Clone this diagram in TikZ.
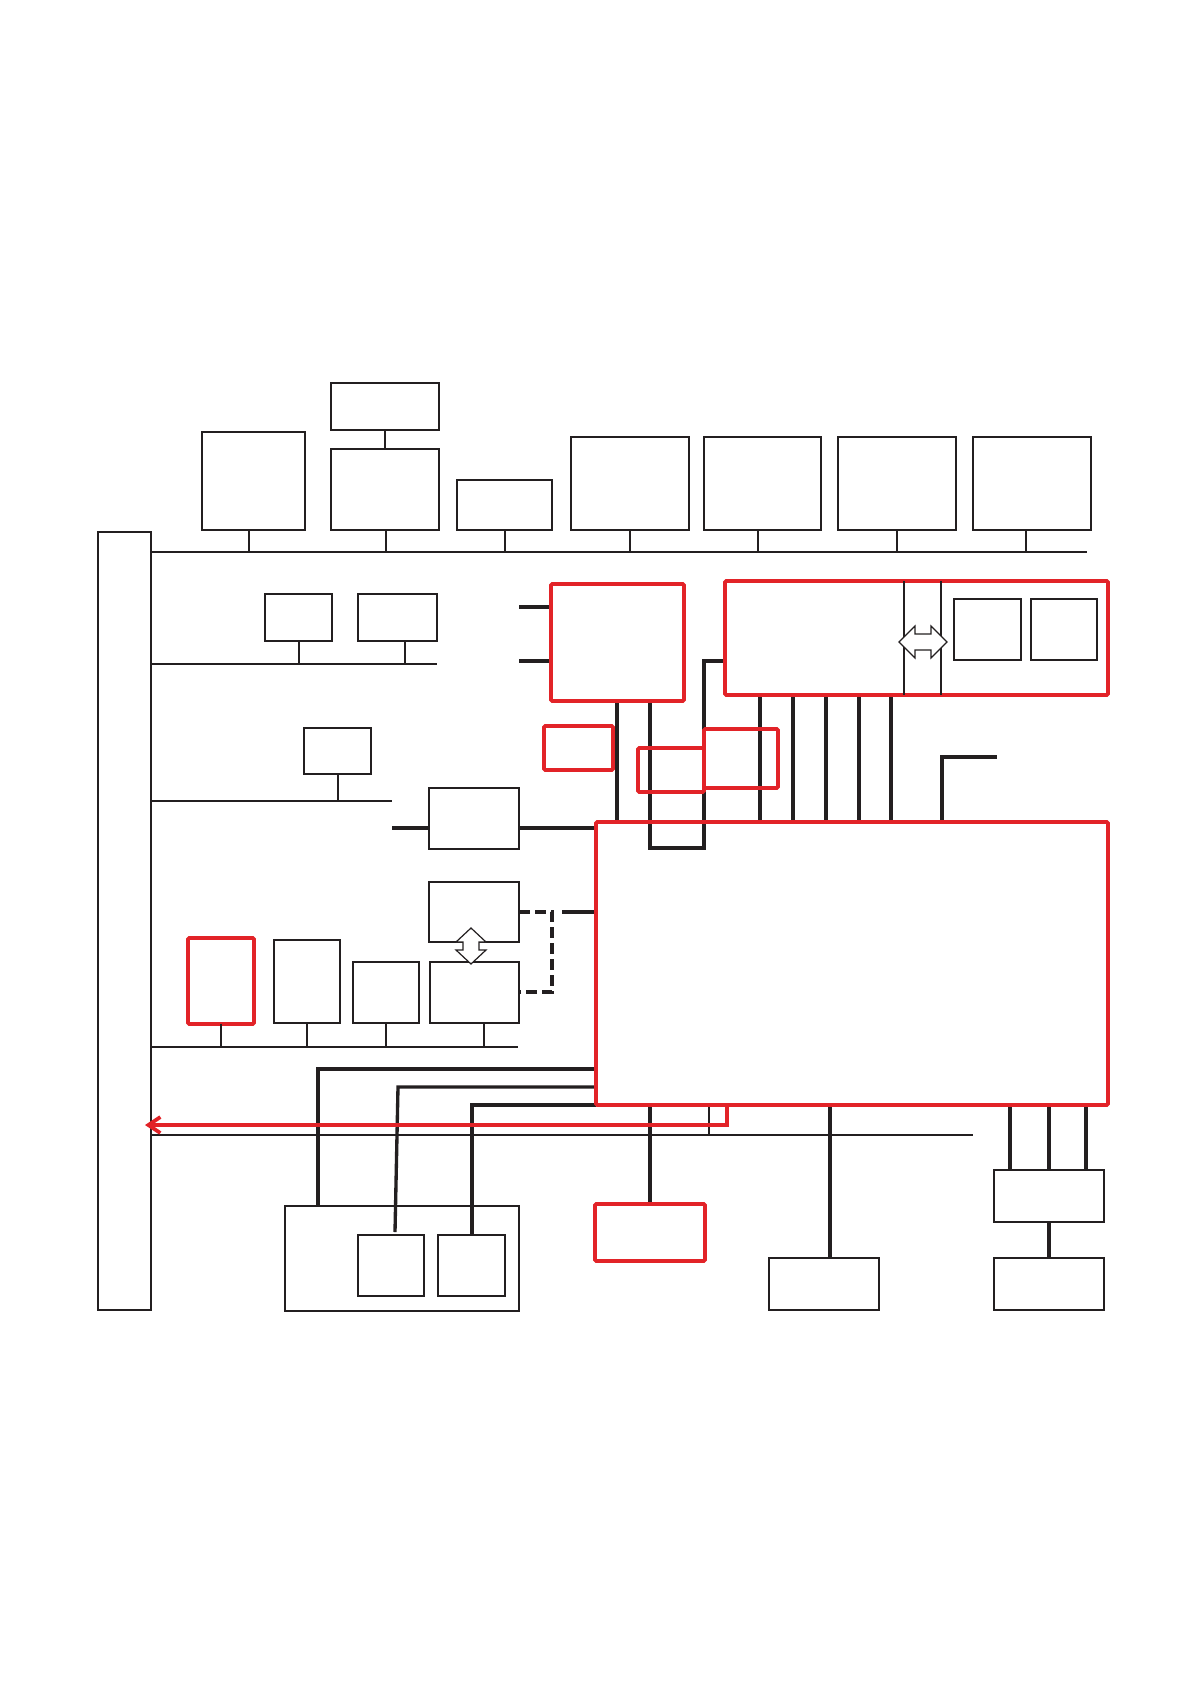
\documentclass[tikz,border=0pt]{standalone}
\usetikzlibrary{fit,arrows.meta}
\definecolor{lred}{RGB}{226,35,40}
\definecolor{lblk}{RGB}{35,31,32}
\pgfdeclarelayer{back}
\pgfsetlayers{back,main}
\tikzset{every picture/.style={line width=0.75pt}}
\tikzset{
  blk/.style={draw=lblk, line width=0.9pt, inner sep=0pt, outer sep=0pt},
  redblk/.style={draw=lred, line width=2.8pt, inner sep=0pt, outer sep=0pt, rounded corners=1pt},
  busline/.style={draw=lblk, line width=1.5pt},
  thinbus/.style={draw=lblk, line width=0.9pt},
  wire/.style={draw=lblk, line width=2.5pt},
  dashwire/.style={draw=lblk, line width=2.5pt, dash pattern={on 8pt off 4pt}},
  redwire/.style={draw=lred, line width=2.8pt},
  dblarrow/.style={draw=lblk, line width=0.9pt, fill=white},
}
\begin{document}
\begin{tikzpicture}[x=0.75pt,y=0.75pt,yscale=-1,xscale=1]
\useasboundingbox (0,0) rectangle (1190,1684);

%Shape: Rectangle [left bar]
\node[blk, fit={(98,532) (151,1310)}] (bar) {};

%Shape: Rectangle [top row]
\node[blk, fit={(202,432) (305,530)}] (topA) {};
\node[blk, fit={(331,383) (439,430)}] (topB) {};
\node[blk, fit={(331,449) (439,530)}] (topC) {};
\node[blk, fit={(457,480) (552,530)}] (topD) {};
\node[blk, fit={(571,437) (689,530)}] (topE) {};
\node[blk, fit={(704,437) (821,530)}] (topF) {};
\node[blk, fit={(838,437) (956,530)}] (topG) {};
\node[blk, fit={(973,437) (1091,530)}] (topH) {};

%Straight Lines [bus 1]
\coordinate (busA) at (151,552);
\coordinate (busAend) at (1087,552);
\draw[busline] (busA) -- (busAend);
\draw[busline] (topB.south) -- (topC.north);
\foreach \bx/\dx in {topA/-3.4,topC/0.5,topD/0.4,topE/0,topF/-3.5,topG/0,topH/-4.5}
  \draw[busline] ([xshift=\dx pt]\bx.south) -- ([xshift=\dx pt]\bx.south |- busA);

%Shape: Rectangle [bus 2]
\node[blk, fit={(265,594) (332,641)}] (midK) {};
\node[blk, fit={(358,594) (437,641)}] (midL) {};
\coordinate (busB) at (151,664);
\coordinate (busBend) at (437,664);
\draw[busline] (busB) -- (busBend);
\draw[busline] (midK.south) -- (midK.south |- busB);
\draw[busline] ([xshift=5.6pt]midL.south) -- ([xshift=5.6pt]midL.south |- busB);

%Shape: Rectangle [bus 3]
\node[blk, fit={(304,728) (371,774)}] (midM) {};
\coordinate (busC) at (151,801);
\coordinate (busCend) at (392,801);
\draw[thinbus] (busC) -- (busCend);
\draw[busline] (midM.south) -- (midM.south |- busC);

%Shape: Rectangle [middle column]
\node[blk, fit={(429,788) (519,849)}] (midN) {};
\node[blk, fit={(429,882) (519,942)}] (midO) {};
\node[blk, fit={(430,962) (519,1023)}] (midP) {};

%Shape: Rectangle [bus 4]
\node[redblk, fit={(188,938) (254,1024)}] (redQ) {};
\node[blk, fit={(274,940) (340,1023)}] (midS) {};
\node[blk, fit={(353,962) (419,1023)}] (midT) {};
\coordinate (busD) at (151,1047);
\coordinate (busDend) at (518,1047);
\draw[busline] (busD) -- (busDend);
\foreach \bx/\dx in {redQ/0,midS/0,midT/0,midP/7}
  \draw[busline] ([xshift=\dx pt]\bx.south) -- ([xshift=\dx pt]\bx.south |- busD);

%Shape: Rectangle [red blocks]
\node[redblk, fit={(551,584) (684,701)}] (redA) {};
\node[redblk, fit={(725,581) (1108,695)}] (redB) {};
\node[redblk, fit={(544,726) (613,770)}] (redC) {};
\node[redblk, fit={(638,748) (704,792)}] (redD) {};
\node[redblk, fit={(704,729) (778,788)}] (redE) {};
\node[redblk, fit={(596,822) (1108,1105)}] (core) {};
\node[redblk, fit={(595,1204) (705,1261)}] (redF) {};

%Shape: Rectangle [inside redB]
\coordinate (splitA) at (904,0);
\coordinate (splitB) at (941,0);
\draw[blk] (redB.north -| splitA) -- (redB.south -| splitA);
\draw[blk] (redB.north -| splitB) -- (redB.south -| splitB);
\node[blk, fit={(954,599) (1021,660)}] (subI) {};
\node[blk, fit={(1031,599) (1097,660)}] (subJ) {};

%Shape: Rectangle [bottom row]
\node[blk, fit={(285,1206) (519,1311)}] (botU) {};
\node[blk, fit={(358,1235) (424,1296)}] (botV) {};
\node[blk, fit={(438,1235) (505,1296)}] (botW) {};
\node[blk, fit={(769,1258) (879,1310)}] (botX) {};
\node[blk, fit={(994,1170) (1104,1222)}] (botY) {};
\node[blk, fit={(994,1258) (1104,1310)}] (botZ) {};

\begin{pgfonlayer}{back}
%Straight Lines [into redA]
\coordinate (feedA) at (519,607);
\coordinate (feedB) at (519,661);
\draw[wire] (feedA) -- (feedA -| redA.west);
\draw[wire] (feedB) -- (feedB -| redA.west);
%Straight Lines [through midN]
\coordinate (nIn) at (392,828);
\draw[wire] (nIn) -- (nIn -| midN.west);
\draw[wire] (nIn -| midN.east) -- (nIn -| core.west);
%Straight Lines [midO / midP]
\coordinate (dashR) at (552,912);
\coordinate (dashB) at (552,992);
\draw[dashwire] (dashR -| midO.east) -- (dashR) -- (dashB) -- (dashB -| midP.east);
\coordinate (stubO) at (562,912);
\draw[wire] (stubO) -- (stubO -| core.west);
%Straight Lines [redA down]
\coordinate (vA) at (617,0);
\coordinate (vB) at (650,848);
\coordinate (vC) at (704,661);
\draw[wire] (redA.south -| vA) -- (core.north -| vA);
\draw[wire] (redA.south -| vB) -- (vB) -- (vB -| vC) -- (vC) -- (vC -| redB.west);
%Straight Lines [redB down]
\foreach \xx in {760,793,826,859,891}{
  \coordinate (vx) at (\xx,0);
  \draw[wire] (redB.south -| vx) -- (core.north -| vx);
}
\coordinate (lTop) at (942,757);
\coordinate (lEnd) at (997,757);
\draw[wire] (core.north -| lTop) -- (lTop) -- (lEnd);
%Straight Lines [core to bottom left]
\coordinate (outA) at (318,1069);
\coordinate (outB) at (398,1087);
\coordinate (outBend) at (395,1232);
\coordinate (outC) at (472,1105);
\draw[wire] (outA -| core.west) -- (outA) -- (outA |- botU.north);
\draw[wire] (outB -| core.west) -- (outB) -- (outBend);
\draw[wire] (outC -| core.west) -- (outC) -- (outC |- botW.north);
%Straight Lines [core down]
\coordinate (dA) at (650,0);
\draw[wire] (core.south -| dA) -- (redF.north -| dA);
\coordinate (dB) at (830,0);
\draw[wire] (core.south -| dB) -- (botX.north -| dB);
\foreach \xx in {1010,1049,1086}{
  \coordinate (dx) at (\xx,0);
  \draw[wire] (core.south -| dx) -- (botY.north -| dx);
}
\draw[wire] (botY.south) -- (botZ.north);
%Straight Lines [bus 5]
\coordinate (busE) at (151,1135);
\coordinate (busEend) at (973,1135);
\draw[thinbus] (busE) -- (busEend);
\coordinate (tap) at (709,1135);
\draw[thinbus] (core.south -| tap) -- (tap);
\end{pgfonlayer}

%Shape: Double Arrow
\draw[dblarrow] (899,642) -- (915,626) -- (915,634) -- (931,634) -- (931,626) -- (947,642) -- (931,658) -- (931,650) -- (915,650) -- (915,658) -- cycle;
\draw[dblarrow] (471,928) -- (486,942) -- (479,942) -- (479,950) -- (486,950) -- (471,964) -- (456,950) -- (463,950) -- (463,942) -- (456,942) -- cycle;

%Straight Lines [red return arrow]
\coordinate (arrBend) at (727,1125);
\coordinate (arrTip) at (145,1125);
\draw[redwire, -{Straight Barb[length=9pt,width=12pt]}] (core.south -| arrBend) -- (arrBend) -- (arrTip);

\end{tikzpicture}
\end{document}
